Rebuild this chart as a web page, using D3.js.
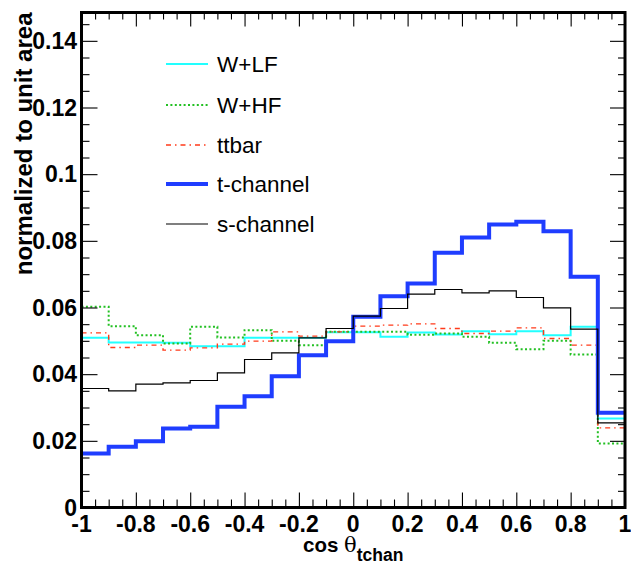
<!DOCTYPE html>
<html>
<head>
<meta charset="utf-8">
<script src="https://cdn.jsdelivr.net/npm/d3@7"></script>
<style>
  body { margin: 0; background: #fff; }
  svg { display: block; }
  text { font-family: Helvetica, Arial, "Liberation Sans", sans-serif; fill: #000; }
  .tick-label { font-size: 23px; font-weight: bold; }
  .legend-label { font-size: 22.5px; }
</style>
</head>
<body>
<svg id="chart"></svg>
<script>
// bin edges of cos(theta_tchan), 20 bins
const binEdges = [-1, -0.9, -0.8, -0.7, -0.6, -0.5, -0.4, -0.3, -0.2, -0.1, 0,
                  0.1, 0.2, 0.3, 0.4, 0.5, 0.6, 0.7, 0.8, 0.9, 1];

// normalized contents per bin
const wlf = [0.0509, 0.0495, 0.0495, 0.0494, 0.0484, 0.0484, 0.0509, 0.0509, 0.0509, 0.0526,
             0.0526, 0.0512, 0.0525, 0.0519, 0.0529, 0.0520, 0.0529, 0.0517, 0.0542, 0.0267];
const whf = [0.0602, 0.0544, 0.0517, 0.0492, 0.0542, 0.0510, 0.0532, 0.0500, 0.0487, 0.0527,
             0.0527, 0.0527, 0.0518, 0.0522, 0.0512, 0.0494, 0.0475, 0.0500, 0.0459, 0.0192];
const ttbar = [0.0524, 0.0480, 0.0487, 0.0472, 0.0479, 0.0490, 0.0499, 0.0527, 0.0514, 0.0527,
               0.0544, 0.0547, 0.0551, 0.0537, 0.0522, 0.0529, 0.0539, 0.0507, 0.0487, 0.0239];
const tchan = [0.0162, 0.0182, 0.0199, 0.0237, 0.0242, 0.0302, 0.0334, 0.0394, 0.0457, 0.0499,
               0.0572, 0.0634, 0.0672, 0.0764, 0.0810, 0.0849, 0.0857, 0.0829, 0.0692, 0.0284];
const schan = [0.0357, 0.0350, 0.0370, 0.0374, 0.0381, 0.0404, 0.0444, 0.0464, 0.0509, 0.0537,
               0.0574, 0.0597, 0.0640, 0.0654, 0.0644, 0.0650, 0.0630, 0.0599, 0.0535, 0.0254];

const seriesNames = ["W+LF", "W+HF", "ttbar", "t-channel", "s-channel"];

const xMajorTicks = [-1, -0.8, -0.6, -0.4, -0.2, 0, 0.2, 0.4, 0.6, 0.8, 1];
const xTickLabels = ["-1", "-0.8", "-0.6", "-0.4", "-0.2", "0", "0.2", "0.4", "0.6", "0.8", "1"];
const yMajorTicks = [0, 0.02, 0.04, 0.06, 0.08, 0.1, 0.12, 0.14];
const yTickLabels = ["0", "0.02", "0.04", "0.06", "0.08", "0.1", "0.12", "0.14"];

const settings = {
  width: 631,
  height: 572,
  left: 81.5,
  right: 625,
  top: 12.5,
  bottom: 507.5,
  yMax: 0.1485
};

const styles = [
  { color: "#22ffff", width: 2, dash: null },
  { color: "#22c022", width: 2, dash: "2,2.4" },
  { color: "#ff3a1a", width: 1.4, dash: "5,4,1.5,4" },
  { color: "#1f3dff", width: 4, dash: null },
  { color: "#000000", width: 1.2, dash: null }
];

const svg = d3.select("#chart")
  .attr("width", settings.width)
  .attr("height", settings.height);

const x = d3.scaleLinear().domain([-1, 1]).range([settings.left, settings.right]);
const y = d3.scaleLinear().domain([0, settings.yMax]).range([settings.bottom, settings.top]);

// histograms as steps
const step = d3.line()
  .x(d => x(d[0]))
  .y(d => y(d[1]))
  .curve(d3.curveStepAfter);

const allSeries = [wlf, whf, ttbar, tchan, schan];
const plot = svg.append("g").attr("class", "hists");

allSeries.forEach((values, i) => {
  const pts = values.map((v, j) => [binEdges[j], v]);
  pts.push([binEdges[binEdges.length - 1], values[values.length - 1]]);
  plot.append("path")
    .attr("d", step(pts))
    .attr("fill", "none")
    .attr("stroke", styles[i].color)
    .attr("stroke-width", styles[i].width)
    .attr("stroke-dasharray", styles[i].dash)
    .attr("stroke-linejoin", "miter");
});

// axes: ticks on all four sides, pointing inward
const xMinor = d3.range(-1, 1.0001, 0.05).filter(v => !xMajorTicks.some(m => Math.abs(m - v) < 1e-6));
const yMinor = d3.range(0, 0.1451, 0.005).filter(v => !yMajorTicks.some(m => Math.abs(m - v) < 1e-6));

svg.append("g")
  .attr("transform", `translate(0,${settings.bottom})`)
  .call(d3.axisTop(x).tickValues(xMajorTicks).tickSize(15).tickFormat(""));
svg.append("g")
  .attr("transform", `translate(0,${settings.bottom})`)
  .call(d3.axisTop(x).tickValues(xMinor).tickSize(8).tickFormat(""));
svg.append("g")
  .attr("transform", `translate(0,${settings.top})`)
  .call(d3.axisBottom(x).tickValues(xMajorTicks).tickSize(14).tickFormat(""));
svg.append("g")
  .attr("transform", `translate(0,${settings.top})`)
  .call(d3.axisBottom(x).tickValues(xMinor).tickSize(7).tickFormat(""));
svg.append("g")
  .attr("transform", `translate(${settings.left},0)`)
  .call(d3.axisRight(y).tickValues(yMajorTicks).tickSize(16).tickFormat(""));
svg.append("g")
  .attr("transform", `translate(${settings.left},0)`)
  .call(d3.axisRight(y).tickValues(yMinor).tickSize(8).tickFormat(""));
svg.append("g")
  .attr("transform", `translate(${settings.right},0)`)
  .call(d3.axisLeft(y).tickValues(yMajorTicks).tickSize(15).tickFormat(""));
svg.append("g")
  .attr("transform", `translate(${settings.right},0)`)
  .call(d3.axisLeft(y).tickValues(yMinor).tickSize(7).tickFormat(""));

svg.selectAll(".domain").remove();
svg.selectAll(".tick line").attr("stroke", "#000").attr("stroke-width", 1.1);

// frame
svg.append("rect")
  .attr("x", settings.left)
  .attr("y", settings.top)
  .attr("width", settings.right - settings.left)
  .attr("height", settings.bottom - settings.top)
  .attr("fill", "none")
  .attr("stroke", "#000")
  .attr("stroke-width", 3);

// tick labels
svg.append("g").selectAll("text")
  .data(xMajorTicks)
  .join("text")
  .attr("class", "tick-label")
  .attr("x", d => x(d))
  .attr("y", 532)
  .attr("text-anchor", "middle")
  .text((d, i) => xTickLabels[i]);

svg.append("g").selectAll("text")
  .data(yMajorTicks)
  .join("text")
  .attr("class", "tick-label")
  .attr("x", 77)
  .attr("y", d => y(d))
  .attr("dy", "0.36em")
  .attr("text-anchor", "end")
  .text((d, i) => yTickLabels[i]);

// axis titles
svg.append("text")
  .attr("transform", `translate(32,${settings.top}) rotate(-90)`)
  .attr("text-anchor", "end")
  .style("font-size", "24px")
  .style("font-weight", "bold")
  .text("normalized to unit area");

const xTitle = svg.append("text")
  .attr("x", x(0))
  .attr("y", 551.5)
  .attr("text-anchor", "middle")
  .style("font-size", "20.5px")
  .style("font-weight", "bold");
xTitle.append("tspan").text("cos ");
xTitle.append("tspan")
  .style("font-weight", "normal")
  .style("font-family", "'DejaVu Serif', 'Liberation Serif', serif")
  .style("font-size", "21px")
  .text("θ");
xTitle.append("tspan")
  .attr("dy", 9)
  .style("font-size", "17.5px")
  .text("tchan");

// legend
const legendRows = [64, 105, 145, 184, 224];
const legend = svg.append("g").attr("class", "legend");
seriesNames.forEach((name, i) => {
  legend.append("line")
    .attr("x1", 166).attr("x2", 208)
    .attr("y1", legendRows[i]).attr("y2", legendRows[i])
    .attr("stroke", styles[i].color)
    .attr("stroke-width", styles[i].width)
    .attr("stroke-dasharray", styles[i].dash);
  legend.append("text")
    .attr("class", "legend-label")
    .attr("x", 217)
    .attr("y", legendRows[i])
    .attr("dy", "0.36em")
    .text(name);
});
</script>
</body>
</html>
